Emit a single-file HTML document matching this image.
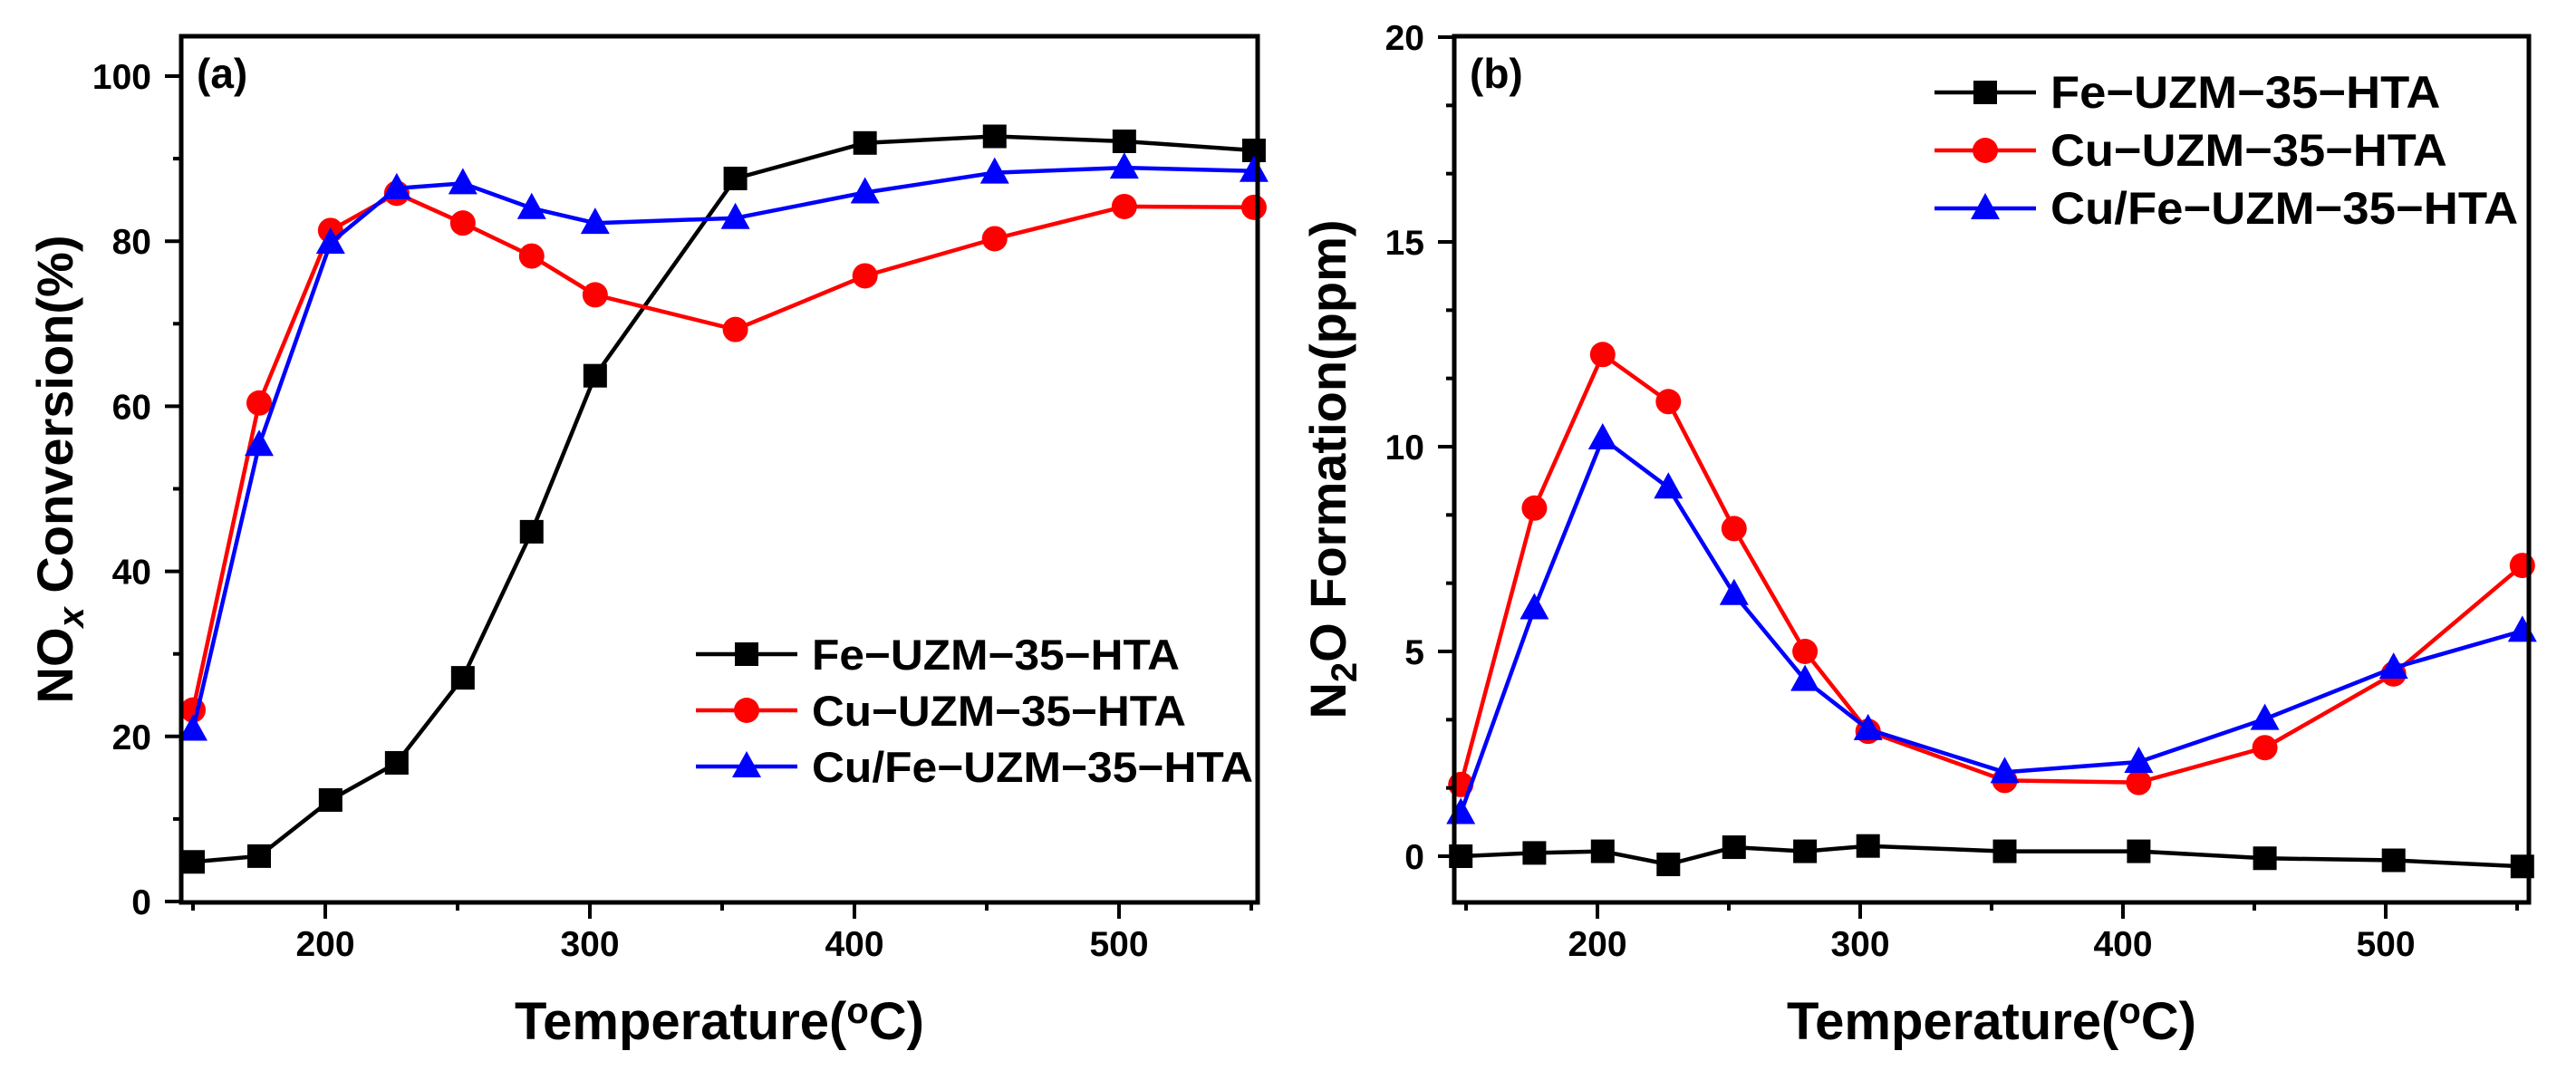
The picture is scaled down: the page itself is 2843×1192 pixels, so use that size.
<!DOCTYPE html>
<html><head><meta charset="utf-8"><style>
html,body{margin:0;padding:0;background:#fff;}
svg{display:block;font-family:"Liberation Sans",Arial,sans-serif;font-weight:bold;}
</style></head>
<body>
<svg id="fig" width="2843" height="1192" viewBox="0 0 2843 1192" xmlns="http://www.w3.org/2000/svg"></svg>
<script>
// ---------- data ----------
const tempsA = [150,175,202,227,252,278,302,355,404,453,502,551];
const feA = [4.8,5.5,12.3,16.8,27.1,44.8,63.7,87.6,91.9,92.7,92.1,91.0];
const cuA = [23.2,60.4,81.3,85.8,82.2,78.2,73.5,69.3,75.8,80.3,84.2,84.1];
const cufeA = [20.8,55.3,79.8,86.4,87.0,84.0,82.2,82.8,85.9,88.3,88.9,88.5];
const tempsB = [148,176,202,227,252,279,303,355,406,454,503,552];
const feB = [0.0,0.08,0.12,-0.2,0.22,0.12,0.25,0.12,0.12,-0.05,-0.1,-0.25];
const cuB = [1.75,8.5,12.25,11.1,8.0,5.0,3.05,1.85,1.8,2.65,4.45,7.1];
const cufeB = [1.05,6.05,10.2,9.0,6.4,4.3,3.1,2.05,2.3,3.35,4.6,5.5];
const xTicks = [200,300,400,500];
const xMinor = [150,250,350,450,550];
const yTicksA = [0,20,40,60,80,100];
const yMinorA = [10,30,50,70,90];
const yTicksB = [0,5,10,15,20];
const yMinorB = [1.667,3.333,6.667,8.333,11.667,13.333,16.667,18.333];
const legendLabels = ["Fe\u2212UZM\u221235\u2212HTA","Cu\u2212UZM\u221235\u2212HTA","Cu/Fe\u2212UZM\u221235\u2212HTA"];

const NS="http://www.w3.org/2000/svg";
const svg=document.getElementById('fig');
function mk(tag,attrs,parent){const e=document.createElementNS(NS,tag);for(const k in attrs)e.setAttribute(k,attrs[k]);(parent||svg).appendChild(e);return e;}
function scale(d0,d1,r0,r1){return v=>r0+(v-d0)*(r1-r0)/(d1-d0);}

function marker(g,type,x,y,color){
  let m;
  if(type==='sq'){m=mk('rect',{x:x-13,y:y-13,width:26,height:26,fill:color},g);}
  else if(type==='ci'){m=mk('circle',{cx:x,cy:y,r:14,fill:color},g);}
  else {m=mk('polygon',{points:`${x},${y-17} ${x-16},${y+12} ${x+16},${y+12}`,fill:color},g);}
  return m;
}

function panel(o){
  const X=scale(200,500,o.x200,o.x500), Y=scale(o.yv0,o.yv1,o.yp0,o.yp1);
  const g=mk('g',{});
  
  
  const series=[[o.fe,'#000','sq','fe'],[o.cu,'#ff0000','ci','cu'],[o.cufe,'#0000ff','tr','cufe']];
  series.forEach(s=>{
    const sg=mk('g',{},g);
    
    
    const pts=o.temps.map((t,i)=>X(t).toFixed(1)+','+Y(s[0][i]).toFixed(1)).join(' ');
    const pl=mk('polyline',{points:pts,fill:'none',stroke:s[1],'stroke-width':4.5,'stroke-linejoin':'round'},sg);
    
    
    o.temps.forEach((t,i)=>{
      const m=marker(sg,s[2],X(t),Y(s[0][i]),s[1]);
      
      
    });
  });
  const fr=mk('rect',{x:o.L,y:o.T,width:o.R-o.L,height:o.B-o.T,fill:'none',stroke:'#000','stroke-width':5},g);
  
  
  xTicks.forEach(t=>{
    const x=X(t);
    mk('line',{x1:x,y1:o.B,x2:x,y2:o.B+18,stroke:'#000','stroke-width':4},g);
    const tx=mk('text',{x:x,y:1055,'font-size':39,'text-anchor':'middle'},g);
    tx.textContent=t;
    
    
  });
  xMinor.forEach(t=>{const x=X(t);mk('line',{x1:x,y1:o.B,x2:x,y2:o.B+9,stroke:'#000','stroke-width':4},g);});
  o.yTicks.forEach(v=>{
    const y=Y(v);
    mk('line',{x1:o.L-18,y1:y,x2:o.L,y2:y,stroke:'#000','stroke-width':4},g);
    const tx=mk('text',{x:o.L-33,y:y+14,'font-size':39,'text-anchor':'end'},g);
    tx.textContent=v;
    
    
  });
  o.yMinor.forEach(v=>{const y=Y(v);mk('line',{x1:o.L-9,y1:y,x2:o.L,y2:y,stroke:'#000','stroke-width':4},g);});
  const pl=mk('text',{x:o.L+17,y:o.T+57,'font-size':46},g);
  pl.textContent=o.letter;
  
  
  const xt=mk('text',{x:(o.L+o.R)/2,y:1147,'font-size':58,'text-anchor':'middle'},g);
  xt.innerHTML='Temperature(<tspan font-size="40" dy="-18">o</tspan><tspan dy="18">C)</tspan>';
  
  
  const yt=mk('text',{x:0,y:0,'font-size':56,'text-anchor':'middle',transform:`translate(${o.L-120},518) rotate(-90)`},g);
  yt.innerHTML=o.ytitle;
  
  
  const lg=mk('g',{},g);
  
  
  const widths=[406,413,487].map(w=>w*o.legScale);
  series.forEach((s,i)=>{
    const cy=o.legY[i];
    const eg=mk('g',{},lg);
    
    
    mk('line',{x1:o.legX,y1:cy,x2:o.legX+112,y2:cy,stroke:s[1],'stroke-width':4.5},eg);
    marker(eg,s[2],o.legX+56,cy,s[1]);
    const t=mk('text',{x:o.legX+128,y:cy+17,'font-size':47*o.legScale,textLength:widths[i],lengthAdjust:'spacingAndGlyphs'},eg);
    t.textContent=legendLabels[i];
  });
}

panel({name:'chart-nox-conversion',L:200,R:1388,T:40,B:996,x200:359,x500:1235,
  yv0:0,yv1:100,yp0:995,yp1:84,temps:tempsA,fe:feA,cu:cuA,cufe:cufeA,
  yTicks:yTicksA,yMinor:yMinorA,letter:'(a)',
  ytitle:'NO<tspan font-size="40" font-style="italic" dy="12">x</tspan><tspan dy="-12"> Conversion(%)</tspan>',
  legX:768,legY:[722,784,846],legScale:1});
panel({name:'chart-n2o-formation',L:1605,R:2791,T:40,B:996,x200:1763,x500:2633,
  yv0:0,yv1:20,yp0:945,yp1:41,temps:tempsB,fe:feB,cu:cuB,cufe:cufeB,
  yTicks:yTicksB,yMinor:yMinorB,letter:'(b)',
  ytitle:'N<tspan font-size="40" dy="12">2</tspan><tspan dy="-12">O Formation(ppm)</tspan>',
  legX:2135,legY:[102,166,230],legScale:1.06});
</script>
</body></html>
